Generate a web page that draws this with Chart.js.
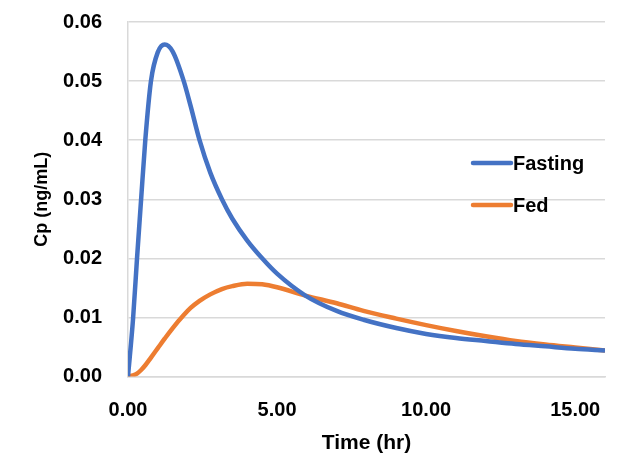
<!DOCTYPE html>
<html>
<head>
<meta charset="utf-8">
<script src="https://cdn.jsdelivr.net/npm/chart.js@4/dist/chart.umd.min.js"></script>
<style>
  html, body { margin: 0; padding: 0; background: #fff; }
  #wrap { width: 624px; height: 460px; }
</style>
</head>
<body>
<div id="wrap"><canvas id="cpChart" width="624" height="460"></canvas></div>
<script>
var times   = [0, 0.17, 0.3, 0.44, 0.58, 0.77, 1.0, 1.23, 1.5, 1.87, 2.1, 2.4, 2.76, 3.15, 3.5, 4.0, 4.5, 5.0, 5.95, 7, 7.9, 9, 10, 11, 12, 13, 14, 15, 16];
var fasting = [0, 0.0098, 0.0198, 0.030, 0.040, 0.050, 0.0549, 0.0562, 0.0550, 0.050, 0.0458, 0.040, 0.0345, 0.030, 0.0267, 0.0230, 0.020, 0.0174, 0.0137, 0.0111, 0.0096, 0.0082, 0.0072, 0.0065, 0.0060, 0.0055, 0.0051, 0.0047, 0.0044];
var fed     = [0, 0.0002, 0.0005, 0.0011, 0.0019, 0.0032, 0.0048, 0.0064, 0.0082, 0.0104, 0.0116, 0.0128, 0.0139, 0.0148, 0.0153, 0.0157, 0.0156, 0.0151, 0.0137, 0.0124, 0.0111, 0.0098, 0.0087, 0.0077, 0.0068, 0.0060, 0.0054, 0.0049, 0.0044];
var seriesNames = ['Fasting', 'Fed'];
var xTitle = 'Time (hr)';
var yTitle = 'Cp (ng/mL)';

function pairs(ys) {
  return times.map(function (t, i) { return { x: t, y: ys[i] }; });
}

var fontName = "'Liberation Sans', Arial, sans-serif";

// legend drawn inside the plot area, like the spreadsheet original
var insideLegend = {
  id: 'insideLegend',
  afterDatasetsDraw: function (chart) {
    var c = chart.ctx;
    var area = chart.chartArea;
    var x0 = area.right - 132;
    var rowY = [area.top + 141, area.top + 183];
    c.save();
    c.font = 'bold 20px ' + fontName;
    c.textBaseline = 'middle';
    c.fillStyle = '#000';
    chart.data.datasets.forEach(function (ds, i) {
      c.strokeStyle = ds.borderColor;
      c.lineWidth = 4.5;
      c.lineCap = 'round';
      c.beginPath();
      c.moveTo(x0, rowY[i]);
      c.lineTo(x0 + 38, rowY[i]);
      c.stroke();
      c.fillText(ds.label, x0 + 40, rowY[i] + 1);
    });
    c.restore();
  }
};

var ctx = document.getElementById('cpChart').getContext('2d');
var chart = new Chart(ctx, {
  type: 'line',
  data: {
    datasets: [{
      label: seriesNames[0],
      data: pairs(fasting),
      borderColor: '#4472C4',
      borderWidth: 4.5,
      pointRadius: 0,
      cubicInterpolationMode: 'monotone',
      fill: false
    }, {
      label: seriesNames[1],
      data: pairs(fed),
      borderColor: '#ED7D31',
      borderWidth: 4.5,
      pointRadius: 0,
      cubicInterpolationMode: 'monotone',
      fill: false
    }]
  },
  options: {
    responsive: false,
    animation: false,
    layout: {
      padding: { top: 22, right: 19, left: 27, bottom: 0 }
    },
    plugins: {
      legend: { display: false },
      tooltip: { enabled: false }
    },
    scales: {
      x: {
        type: 'linear',
        min: 0,
        max: 16,
        ticks: {
          stepSize: 5,
          includeBounds: false,
          padding: 22,
          color: '#000',
          font: { family: fontName, size: 20, weight: 'bold' },
          callback: function (v) { return v.toFixed(2); }
        },
        grid: { display: false, drawTicks: false },
        border: { display: true, color: '#d9d9d9', width: 1.5 },
        title: {
          display: true,
          text: xTitle,
          color: '#000',
          padding: { top: 12 },
          font: { family: fontName, size: 21, weight: 'bold' }
        },
        afterFit: function (scale) { scale.height = 83.5; }
      },
      y: {
        min: 0,
        max: 0.06,
        ticks: {
          stepSize: 0.01,
          padding: 26,
          color: '#000',
          font: { family: fontName, size: 20, weight: 'bold' },
          callback: function (v) { return v.toFixed(2); }
        },
        grid: { color: '#d9d9d9', lineWidth: 1.5, drawTicks: false },
        border: { display: true, color: '#d9d9d9', width: 1.5 },
        title: {
          display: true,
          text: yTitle,
          color: '#000',
          font: { family: fontName, size: 18, weight: 'bold' }
        },
        afterFit: function (scale) {
          scale.width = 101;
          scale.paddingTop = 0;
          scale.paddingBottom = 0;
        }
      }
    }
  },
  plugins: [insideLegend]
});
</script>
</body>
</html>
